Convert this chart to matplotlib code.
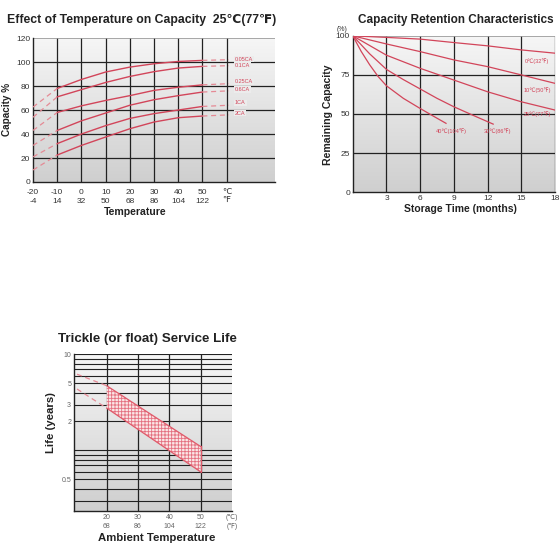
import numpy as np
import matplotlib
matplotlib.use("Agg")
import matplotlib.pyplot as plt
from matplotlib.colors import LinearSegmentedColormap

plt.rcParams['font.family'] = ['Liberation Sans', 'DejaVu Sans']
plt.rcParams['hatch.linewidth'] = 0.6

# ---- data: effect of temperature on capacity ----
temp_solid = [-10, 0, 10, 20, 30, 40, 50]
temp_dash_left = [-20, -10]
temp_dash_right = [50, 61]
rates = ['0.05CA', '0.1CA', '0.25CA', '0.6CA', '1CA', '2CA']
cap_solid = [
    [78, 85.5, 91.7, 95.8, 98.6, 100.5, 101.4],
    [71, 77, 83, 88, 92, 95, 96.4],
    [58, 63.5, 68, 72, 76.4, 79, 81],
    [43, 51, 57.5, 64, 68.6, 72, 75],
    [32, 40, 47, 53, 57, 60, 63],
    [22.5, 30.5, 37.5, 44.4, 50, 53.6, 55],
]
cap_at_m20 = [62.5, 54, 43, 30.5, 21, 10]
cap_at_61 = [102, 97, 82, 76, 64, 56]
rate_label_y = [102.5, 97.5, 83.5, 77, 66, 57.5]
temp_c_ticks = [-20, -10, 0, 10, 20, 30, 40, 50, 60]
temp_labels = ['-20\n-4', '-10\n14', '0\n32', '10\n50', '20\n68', '30\n86',
               '40\n104', '50\n122', '℃\n℉']

# ---- data: capacity retention ----
months_long = [0, 3, 6, 9, 12, 15, 18]
ret_0 = [100, 99, 97.9, 95.7, 93.6, 91, 88.9]
ret_10 = [100, 94.8, 89.9, 84.6, 80.3, 75, 69.6]
ret_25 = [100, 87.6, 79.2, 71.7, 64.2, 57.8, 52.5]
months_30 = [0, 1.5, 3, 4.5, 6, 7.5, 9, 10.75, 12.5]
ret_30 = [100, 88.5, 78.5, 72, 66, 60, 54.6, 49, 43.5]
months_40 = [0, 0.75, 1.5, 2.25, 3, 4.5, 6, 7.2, 8.3]
ret_40 = [100, 90, 81.5, 74, 68, 60, 53.5, 48.5, 44]
ret_labels = ['0℃(32℉)', '10℃(50℉)', '25℃(77℉)', '40℃(104℉)', '30℃(86℉)']
ret_label_x = [16.4, 16.4, 16.4, 8.8, 12.9]
ret_label_y = [83.5, 65, 49.7, 39, 39]

# ---- data: float service life ----
band_temp = [20, 50]
life_upper = [4.7, 1.1]
life_lower = [2.75, 0.6]
dash_temp = [10.5, 20]
dash_upper = [6.2, 4.7]
dash_lower = [4.35, 2.75]
life_ticks = [10, 5, 3, 2, 0.5]
amb_ticks = [20, 30, 40, 50, 60]
amb_labels = ['20\n68', '30\n86', '40\n104', '50\n122', '(℃)\n(℉)']

red = '#d2455a'
pink = '#e58a95'
grid_c = '#222222'
grad = LinearSegmentedColormap.from_list('g', ['#f6f6f6', '#cfcfcf'])

fig = plt.figure(figsize=(5.6, 5.6), dpi=100)


def make_axes(rect):
    bg = fig.add_axes(rect, zorder=0)
    bg.imshow(np.linspace(0, 1, 256).reshape(-1, 1), cmap=grad, aspect='auto',
              extent=[0, 1, 0, 1])
    bg.axis('off')
    ax = fig.add_axes(rect, zorder=1)
    ax.patch.set_alpha(0)
    ax.tick_params(length=0, pad=2)
    for s in ['top', 'right']:
        ax.spines[s].set_visible(False)
    for s in ['left', 'bottom']:
        ax.spines[s].set_color(grid_c)
        ax.spines[s].set_linewidth(1.0)
    return ax


# ---------- top left ----------
ax1 = make_axes([0.059, 0.675, 0.432, 0.257])
ax1.set_xlim(-20, 80)
ax1.set_ylim(0, 120)
for t in temp_c_ticks[1:]:
    ax1.axvline(t, color=grid_c, lw=0.9, zorder=1)
for c in [20, 40, 60, 80, 100]:
    ax1.axhline(c, color=grid_c, lw=0.9, zorder=1)
ax1.axhline(120, color='#999999', lw=0.6, zorder=1)
for i in range(len(rates)):
    ax1.plot(temp_solid, cap_solid[i], color=red, lw=1.0, zorder=3)
    ax1.plot(temp_dash_left, [cap_at_m20[i], cap_solid[i][0]], color=pink,
             lw=0.9, ls=(0, (4, 3)), zorder=3)
    ax1.plot(temp_dash_right, [cap_solid[i][-1], cap_at_61[i]], color=pink,
             lw=0.9, ls=(0, (4, 3)), zorder=3)
    ax1.text(63.5, rate_label_y[i], rates[i], color=red, fontsize=4,
             va='center', ha='left', zorder=4,
             bbox=dict(boxstyle='square,pad=0.15', fc='#ececec', ec='none'))
ax1.set_xticks(temp_c_ticks)
ax1.set_xticklabels(temp_labels, fontsize=6, color='#333333', linespacing=1.5)
ax1.tick_params(axis='x', pad=5)
ax1.set_yticks([0, 20, 40, 60, 80, 100, 120])
ax1.set_yticklabels(['0', '20', '40', '60', '80', '100', '120'], fontsize=6,
                    color='#333333')

# ---------- top right ----------
ax2 = make_axes([0.630, 0.657, 0.361, 0.279])
ax2.set_xlim(0, 18)
ax2.set_ylim(0, 100)
for m in [3, 6, 9, 12, 15, 18]:
    ax2.axvline(m, color=grid_c, lw=0.9, zorder=1)
for r in [25, 50, 75]:
    ax2.axhline(r, color=grid_c, lw=0.9, zorder=1)
ax2.axhline(100, color='#999999', lw=0.6, zorder=1)
ax2.plot(months_long, ret_0, color=red, lw=0.9, zorder=3)
ax2.plot(months_long, ret_10, color=red, lw=0.9, zorder=3)
ax2.plot(months_long, ret_25, color=red, lw=0.9, zorder=3)
ax2.plot(months_30, ret_30, color=red, lw=0.9, zorder=3)
ax2.plot(months_40, ret_40, color=red, lw=0.9, zorder=3)
for lab, x, y in zip(ret_labels, ret_label_x, ret_label_y):
    ax2.text(x, y, lab, color=red, fontsize=4, ha='center', va='center', zorder=4)
ax2.set_xticks([3, 6, 9, 12, 15, 18])
ax2.set_xticklabels(['3', '6', '9', '12', '15', '18'], fontsize=6, color='#333333')
ax2.set_yticks([0, 25, 50, 75, 100])
ax2.set_yticklabels(['0', '25', '50', '75', '100'], fontsize=6, color='#333333')

# ---------- bottom ----------
ax3 = make_axes([0.132, 0.0875, 0.282, 0.280])
ax3.set_yscale('log')
ax3.set_xlim(9.5, 60)
ax3.set_ylim(0.235, 10)
for v in [0.3, 0.4, 0.5, 0.6, 0.7, 0.8, 0.9, 1, 2, 3, 4, 5, 6, 7, 8, 9, 10]:
    ax3.axhline(v, color=grid_c, lw=0.8, zorder=1)
for t in [20, 30, 40, 50]:
    ax3.axvline(t, color=grid_c, lw=0.9, zorder=1)
ax3.fill_between(band_temp, life_lower, life_upper, facecolor='#fbe6e6',
                 edgecolor='#e47080', hatch='+++++', linewidth=0.0, zorder=2)
ax3.plot(band_temp, life_upper, color='#e05a6a', lw=0.9, zorder=3)
ax3.plot(band_temp, life_lower, color='#e05a6a', lw=0.9, zorder=3)
ax3.plot([50, 50], [life_lower[1], life_upper[1]], color='#e05a6a', lw=0.9, zorder=3)
ax3.plot(dash_temp, dash_upper, color=pink, lw=0.9, ls=(0, (4, 3)), zorder=3)
ax3.plot(dash_temp, dash_lower, color=pink, lw=0.9, ls=(0, (4, 3)), zorder=3)
ax3.yaxis.set_minor_locator(matplotlib.ticker.NullLocator())
ax3.set_yticks(life_ticks)
ax3.set_yticklabels(['10', '5', '3', '2', '0.5'], fontsize=5, color='#666666')
ax3.set_xticks(amb_ticks)
ax3.set_xticklabels(amb_labels, fontsize=5, color='#666666', linespacing=1.4)

# ---------- texts ----------
fig.text(0.0125, 0.964, 'Effect of Temperature on Capacity  25℃(77℉)',
         fontsize=8.8, fontweight='bold', ha='left', va='center', color='#222222')
fig.text(0.639, 0.964, 'Capacity Retention Characteristics',
         fontsize=8.5, fontweight='bold', ha='left', va='center', color='#222222')
fig.text(0.2625, 0.395, 'Trickle (or float) Service Life',
         fontsize=9.6, fontweight='bold', ha='center', va='center', color='#222222')
fig.text(0.0125, 0.804, 'Capacity %', rotation=90, fontsize=7.2,
         fontweight='bold', ha='center', va='center', color='#222222')
fig.text(0.586, 0.795, 'Remaining Capacity', rotation=90, fontsize=7.6,
         fontweight='bold', ha='center', va='center', color='#222222')
fig.text(0.091, 0.245, 'Life (years)', rotation=90, fontsize=8.2,
         fontweight='bold', ha='center', va='center', color='#222222')
fig.text(0.241, 0.621, 'Temperature', fontsize=7.6, fontweight='bold',
         ha='center', va='center', color='#222222')
fig.text(0.823, 0.627, 'Storage Time (months)', fontsize=7.5, fontweight='bold',
         ha='center', va='center', color='#222222')
fig.text(0.280, 0.039, 'Ambient Temperature', fontsize=8.2, fontweight='bold',
         ha='center', va='center', color='#222222')
fig.text(0.611, 0.948, '(%)', fontsize=5, ha='center', va='center', color='#333333')

fig.savefig('out.png', dpi=100)
